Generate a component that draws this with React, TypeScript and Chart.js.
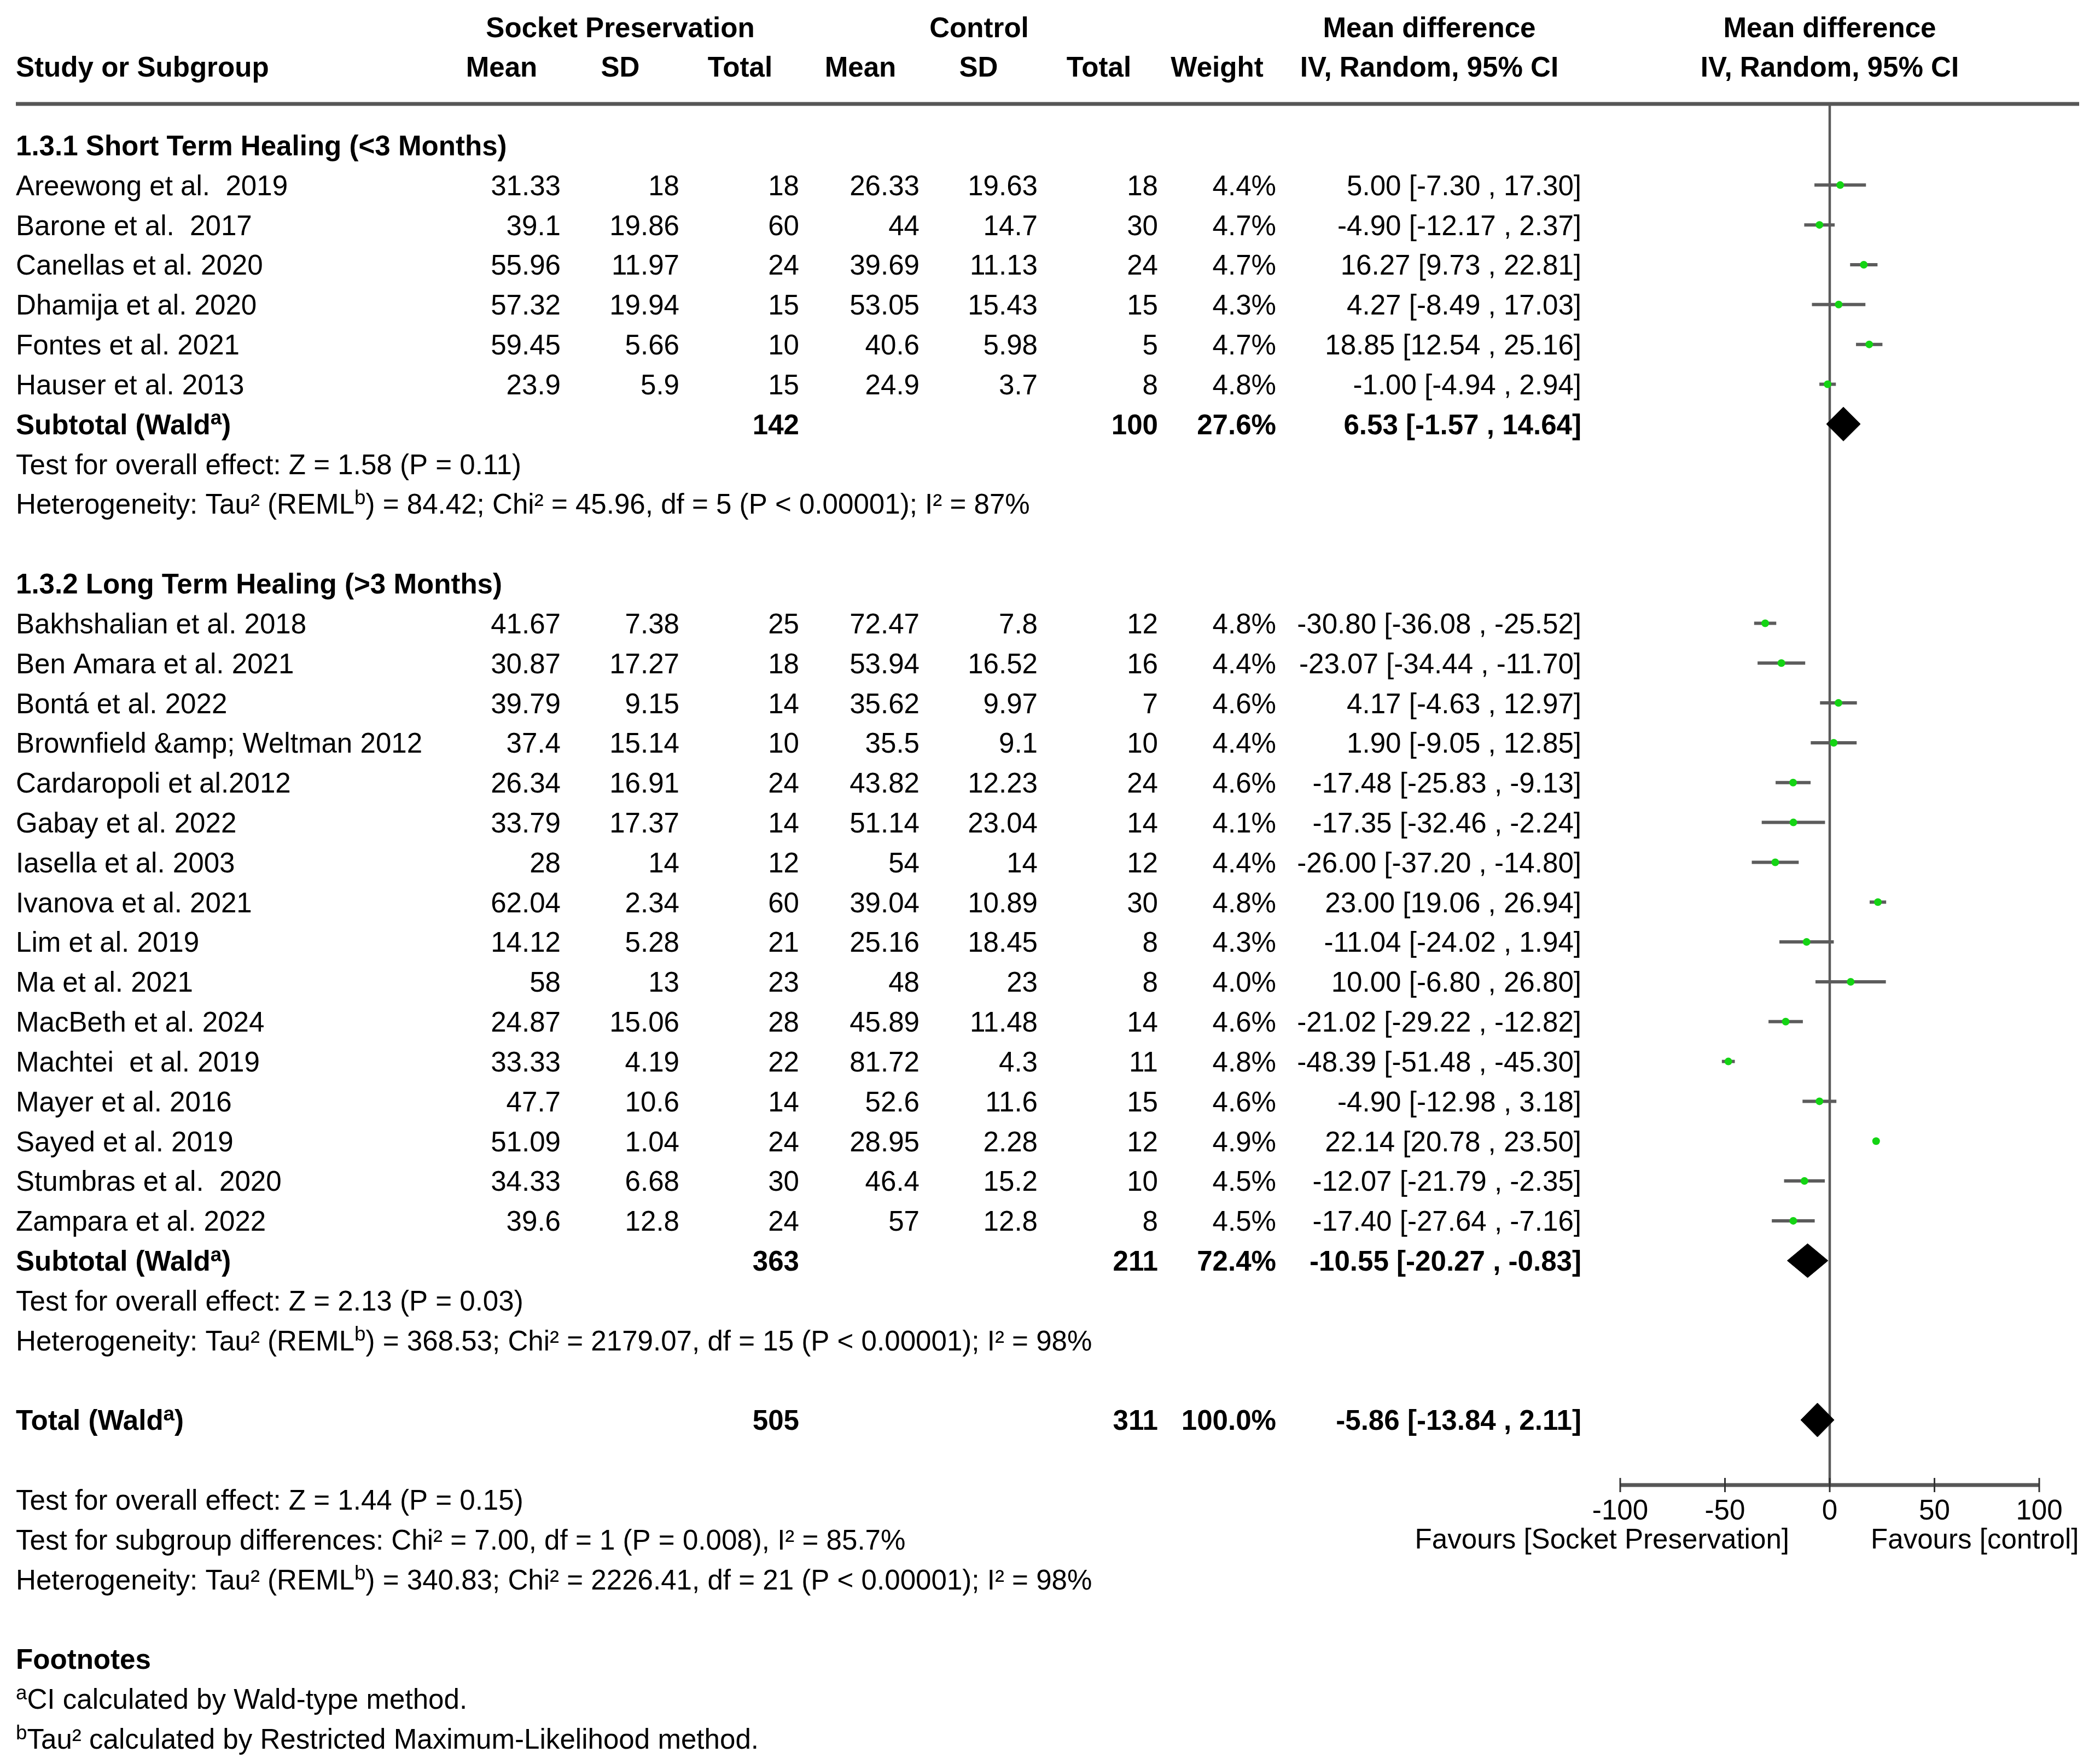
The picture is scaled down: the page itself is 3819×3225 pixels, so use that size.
import React, { useEffect, useRef } from "react";
import { Chart, registerables } from "chart.js";

Chart.register(...registerables);

// ---------------- DATA ----------------
const subgroupNames = [
  "1.3.1 Short Term Healing (<3 Months)",
  "1.3.2 Long Term Healing (>3 Months)",
];
const subgroupSizes = [6, 16];

const studies = [
  "Areewong et al.  2019",
  "Barone et al.  2017",
  "Canellas et al. 2020",
  "Dhamija et al. 2020",
  "Fontes et al. 2021",
  "Hauser et al. 2013",
  "Bakhshalian et al. 2018",
  "Ben Amara et al. 2021",
  "Bontá et al. 2022",
  "Brownfield &amp; Weltman 2012",
  "Cardaropoli et al.2012",
  "Gabay et al. 2022",
  "Iasella et al. 2003",
  "Ivanova et al. 2021",
  "Lim et al. 2019",
  "Ma et al. 2021",
  "MacBeth et al. 2024",
  "Machtei  et al. 2019",
  "Mayer et al. 2016",
  "Sayed et al. 2019",
  "Stumbras et al.  2020",
  "Zampara et al. 2022",
];
const spMean = [31.33, 39.1, 55.96, 57.32, 59.45, 23.9, 41.67, 30.87, 39.79, 37.4, 26.34, 33.79, 28, 62.04, 14.12, 58, 24.87, 33.33, 47.7, 51.09, 34.33, 39.6];
const spSd = [18, 19.86, 11.97, 19.94, 5.66, 5.9, 7.38, 17.27, 9.15, 15.14, 16.91, 17.37, 14, 2.34, 5.28, 13, 15.06, 4.19, 10.6, 1.04, 6.68, 12.8];
const spTotal = [18, 60, 24, 15, 10, 15, 25, 18, 14, 10, 24, 14, 12, 60, 21, 23, 28, 22, 14, 24, 30, 24];
const ctMean = [26.33, 44, 39.69, 53.05, 40.6, 24.9, 72.47, 53.94, 35.62, 35.5, 43.82, 51.14, 54, 39.04, 25.16, 48, 45.89, 81.72, 52.6, 28.95, 46.4, 57];
const ctSd = [19.63, 14.7, 11.13, 15.43, 5.98, 3.7, 7.8, 16.52, 9.97, 9.1, 12.23, 23.04, 14, 10.89, 18.45, 23, 11.48, 4.3, 11.6, 2.28, 15.2, 12.8];
const ctTotal = [18, 30, 24, 15, 5, 8, 12, 16, 7, 10, 24, 14, 12, 30, 8, 8, 14, 11, 15, 12, 10, 8];
const weights = [4.4, 4.7, 4.7, 4.3, 4.7, 4.8, 4.8, 4.4, 4.6, 4.4, 4.6, 4.1, 4.4, 4.8, 4.3, 4.0, 4.6, 4.8, 4.6, 4.9, 4.5, 4.5];
const meanDiff = [5.0, -4.9, 16.27, 4.27, 18.85, -1.0, -30.8, -23.07, 4.17, 1.9, -17.48, -17.35, -26.0, 23.0, -11.04, 10.0, -21.02, -48.39, -4.9, 22.14, -12.07, -17.4];
const ciLow = [-7.3, -12.17, 9.73, -8.49, 12.54, -4.94, -36.08, -34.44, -4.63, -9.05, -25.83, -32.46, -37.2, 19.06, -24.02, -6.8, -29.22, -51.48, -12.98, 20.78, -21.79, -27.64];
const ciHigh = [17.3, 2.37, 22.81, 17.03, 25.16, 2.94, -25.52, -11.7, 12.97, 12.85, -9.13, -2.24, -14.8, 26.94, 1.94, 26.8, -12.82, -45.3, 3.18, 23.5, -2.35, -7.16];

const subSpTotal = [142, 363];
const subCtTotal = [100, 211];
const subWeight = [27.6, 72.4];
const subMd = [6.53, -10.55];
const subLow = [-1.57, -20.27];
const subHigh = [14.64, -0.83];
const subTests = [
  "Test for overall effect: Z = 1.58 (P = 0.11)",
  "Test for overall effect: Z = 2.13 (P = 0.03)",
];
const subHetTail = [
  ") = 84.42; Chi² = 45.96, df = 5 (P < 0.00001); I² = 87%",
  ") = 368.53; Chi² = 2179.07, df = 15 (P < 0.00001); I² = 98%",
];

const totalSp = 505;
const totalCt = 311;
const totalWeight = 100.0;
const totalMd = -5.86;
const totalLow = -13.84;
const totalHigh = 2.11;

const overallTest = "Test for overall effect: Z = 1.44 (P = 0.15)";
const subgroupDiff = "Test for subgroup differences: Chi² = 7.00, df = 1 (P = 0.008), I² = 85.7%";
const overallHetTail = ") = 340.83; Chi² = 2226.41, df = 21 (P < 0.00001); I² = 98%";

const xTicks = [-100, -50, 0, 50, 100];
const favoursLeft = "Favours [Socket Preservation]";
const favoursRight = "Favours [control]";

// ---------------- LAYOUT ----------------
const W = 3819;
const H = 3225;
const TOP_LINE_Y = 190;
const AXIS_Y = 2715;
const ROW0_Y = 265.5;
const ROW_H = 72.83;
const PLOT_LEFT = 2962;
const PLOT_RIGHT = 3728;
const Y_MIN = (TOP_LINE_Y - ROW0_Y) / ROW_H;
const Y_MAX = (AXIS_Y - ROW0_Y) / ROW_H;
const DIAMOND_HALF = 31 / ROW_H;
const FS = 51.1;
const FONT = '"Liberation Sans", Arial, Helvetica, sans-serif';
const LEFT_X = 29;
const COL_RIGHT = [1025, 1242, 1461, 1681, 1897, 2117, 2333];
const CI_RIGHT = 2891;
const CI_HEADER_X = 2613;
const GREEN = "#14d414";
const CI_COLOR = "#5c5c5c";

// row assignment
const groupHeaderRows: number[] = [];
const studyRows: number[] = [];
const subtotalRows: number[] = [];
const testRows: number[] = [];
const hetRows: number[] = [];
let rr = 0;
subgroupSizes.forEach((n) => {
  groupHeaderRows.push(rr++);
  for (let i = 0; i < n; i++) studyRows.push(rr++);
  subtotalRows.push(rr++);
  testRows.push(rr++);
  hetRows.push(rr++);
  rr++;
});
const totalRow = rr++;
rr++;
const overallRows = [rr++, rr++, rr++];
rr++;
const footTitleRow = rr++;
const footRows = [rr++, rr++];

type Seg = { t: string; sup?: boolean };

function setFont(ctx: CanvasRenderingContext2D, bold: boolean, size: number) {
  ctx.font = `${bold ? "bold " : ""}${size}px ${FONT}`;
}

function drawRich(
  ctx: CanvasRenderingContext2D,
  segs: Seg[],
  x: number,
  yc: number,
  align: "left" | "right" | "center",
  bold = false
) {
  const supSize = FS * 0.72;
  let total = 0;
  const ws = segs.map((s) => {
    setFont(ctx, bold, s.sup ? supSize : FS);
    const w = ctx.measureText(s.t).width;
    total += w;
    return w;
  });
  let cx = align === "left" ? x : align === "right" ? x - total : x - total / 2;
  const base = yc + FS * 0.36;
  segs.forEach((s, i) => {
    setFont(ctx, bold, s.sup ? supSize : FS);
    ctx.fillText(s.t, cx, s.sup ? base - FS * 0.34 : base);
    cx += ws[i];
  });
}

const txt = (
  ctx: CanvasRenderingContext2D,
  t: string,
  x: number,
  yc: number,
  align: "left" | "right" | "center",
  bold = false
) => drawRich(ctx, [{ t }], x, yc, align, bold);

const f2 = (v: number) => v.toFixed(2);
const ciText = (m: number, l: number, h: number) => `${f2(m)} [${f2(l)} , ${f2(h)}]`;
const pct = (w: number) => `${w.toFixed(1)}%`;

const tablePlugin = {
  id: "forestTable",
  beforeDraw(chart: any) {
    const ctx = chart.ctx as CanvasRenderingContext2D;
    ctx.save();
    ctx.fillStyle = "#ffffff";
    ctx.fillRect(0, 0, chart.width, chart.height);
    ctx.restore();
  },
  afterDraw(chart: any) {
    const ctx = chart.ctx as CanvasRenderingContext2D;
    const ys = chart.scales.y;
    const xs = chart.scales.x;
    const Y = (r: number) => ys.getPixelForValue(r);
    ctx.save();
    ctx.fillStyle = "#000";
    ctx.textAlign = "left";
    ctx.textBaseline = "alphabetic";

    // headers
    const h1 = Y(-2.97);
    const h2 = Y(-1.97);
    txt(ctx, "Socket Preservation", (COL_RIGHT[0] - 218 + COL_RIGHT[2]) / 2, h1, "center", true);
    txt(ctx, "Control", (COL_RIGHT[3] - 218 + COL_RIGHT[5]) / 2, h1, "center", true);
    txt(ctx, "Mean difference", CI_HEADER_X, h1, "center", true);
    const plotMid = (chart.chartArea.left + chart.chartArea.right) / 2;
    txt(ctx, "Mean difference", plotMid, h1, "center", true);
    txt(ctx, "Study or Subgroup", LEFT_X, h2, "left", true);
    const colHeads = ["Mean", "SD", "Total", "Mean", "SD", "Total", "Weight"];
    colHeads.forEach((h, i) => txt(ctx, h, COL_RIGHT[i] - 108, h2, "center", true));
    txt(ctx, "IV, Random, 95% CI", CI_HEADER_X, h2, "center", true);
    txt(ctx, "IV, Random, 95% CI", plotMid, h2, "center", true);

    // header rule
    ctx.strokeStyle = "#565656";
    ctx.lineWidth = 7;
    ctx.beginPath();
    ctx.moveTo(LEFT_X, chart.chartArea.top);
    ctx.lineTo(3801, chart.chartArea.top);
    ctx.stroke();

    // groups
    let s = 0;
    subgroupNames.forEach((name, g) => {
      txt(ctx, name, LEFT_X, Y(groupHeaderRows[g]), "left", true);
      for (let i = 0; i < subgroupSizes[g]; i++, s++) {
        const y = Y(studyRows[s]);
        txt(ctx, studies[s], LEFT_X, y, "left");
        const vals = [spMean[s], spSd[s], spTotal[s], ctMean[s], ctSd[s], ctTotal[s]].map(String);
        vals.push(pct(weights[s]));
        vals.forEach((v, c) => txt(ctx, v, COL_RIGHT[c], y, "right"));
        txt(ctx, ciText(meanDiff[s], ciLow[s], ciHigh[s]), CI_RIGHT, y, "right");
      }
      const ys2 = Y(subtotalRows[g]);
      drawRich(ctx, [{ t: "Subtotal (Wald" }, { t: "a", sup: true }, { t: ")" }], LEFT_X, ys2, "left", true);
      txt(ctx, String(subSpTotal[g]), COL_RIGHT[2], ys2, "right", true);
      txt(ctx, String(subCtTotal[g]), COL_RIGHT[5], ys2, "right", true);
      txt(ctx, pct(subWeight[g]), COL_RIGHT[6], ys2, "right", true);
      txt(ctx, ciText(subMd[g], subLow[g], subHigh[g]), CI_RIGHT, ys2, "right", true);
      txt(ctx, subTests[g], LEFT_X, Y(testRows[g]), "left");
      drawRich(
        ctx,
        [{ t: "Heterogeneity: Tau² (REML" }, { t: "b", sup: true }, { t: subHetTail[g] }],
        LEFT_X,
        Y(hetRows[g]),
        "left"
      );
    });

    // total
    const yt = Y(totalRow);
    drawRich(ctx, [{ t: "Total (Wald" }, { t: "a", sup: true }, { t: ")" }], LEFT_X, yt, "left", true);
    txt(ctx, String(totalSp), COL_RIGHT[2], yt, "right", true);
    txt(ctx, String(totalCt), COL_RIGHT[5], yt, "right", true);
    txt(ctx, pct(totalWeight), COL_RIGHT[6], yt, "right", true);
    txt(ctx, ciText(totalMd, totalLow, totalHigh), CI_RIGHT, yt, "right", true);

    txt(ctx, overallTest, LEFT_X, Y(overallRows[0]), "left");
    txt(ctx, subgroupDiff, LEFT_X, Y(overallRows[1]), "left");
    drawRich(
      ctx,
      [{ t: "Heterogeneity: Tau² (REML" }, { t: "b", sup: true }, { t: overallHetTail }],
      LEFT_X,
      Y(overallRows[2]),
      "left"
    );

    txt(ctx, "Footnotes", LEFT_X, Y(footTitleRow), "left", true);
    drawRich(ctx, [{ t: "a", sup: true }, { t: "CI calculated by Wald-type method." }], LEFT_X, Y(footRows[0]), "left");
    drawRich(
      ctx,
      [{ t: "b", sup: true }, { t: "Tau² calculated by Restricted Maximum-Likelihood method." }],
      LEFT_X,
      Y(footRows[1]),
      "left"
    );

    // x axis
    const ay = chart.chartArea.bottom;
    ctx.strokeStyle = "#565656";
    ctx.lineWidth = 7;
    ctx.beginPath();
    ctx.moveTo(xs.getPixelForValue(xTicks[0]), ay);
    ctx.lineTo(xs.getPixelForValue(xTicks[xTicks.length - 1]), ay);
    ctx.stroke();
    ctx.strokeStyle = "#333";
    ctx.lineWidth = 3;
    xTicks.forEach((t) => {
      const px = xs.getPixelForValue(t);
      ctx.beginPath();
      ctx.moveTo(px, ay - 13);
      ctx.lineTo(px, ay + 13);
      ctx.stroke();
      txt(ctx, String(t), px, ay + 45, "center");
    });
    const zx = xs.getPixelForValue(0);
    txt(ctx, favoursLeft, zx - 74, ay + 98, "right");
    txt(ctx, favoursRight, zx + 75, ay + 98, "left");
    ctx.restore();
  },
};

export default function App() {
  const ref = useRef<HTMLCanvasElement | null>(null);
  useEffect(() => {
    document.body.style.margin = "0";
    const canvas = ref.current;
    if (!canvas) return;

    const ciSets = studies.map((_, i) => ({
      type: "line" as const,
      data: [
        { x: ciLow[i], y: studyRows[i] },
        { x: ciHigh[i], y: studyRows[i] },
      ],
      borderColor: CI_COLOR,
      borderWidth: 6,
      pointRadius: 0,
      fill: false,
      order: 2,
    }));

    const diamond = (m: number, l: number, h: number, r: number) => ({
      type: "line" as const,
      data: [
        { x: l, y: r },
        { x: m, y: r - DIAMOND_HALF },
        { x: h, y: r },
        { x: m, y: r + DIAMOND_HALF },
        { x: l, y: r },
      ],
      borderColor: "#000",
      backgroundColor: "#000",
      borderWidth: 1,
      pointRadius: 0,
      fill: "shape" as any,
      tension: 0,
      order: 1,
    });

    const chart = new Chart(canvas, {
      type: "line",
      data: {
        datasets: [
          {
            type: "scatter",
            data: meanDiff.map((m, i) => ({ x: m, y: studyRows[i] })),
            backgroundColor: GREEN,
            borderColor: GREEN,
            borderWidth: 0,
            pointStyle: "circle",
            pointRadius: 7,
            order: 0,
          } as any,
          ...ciSets,
          ...subMd.map((m, g) => diamond(m, subLow[g], subHigh[g], subtotalRows[g])),
          diamond(totalMd, totalLow, totalHigh, totalRow),
          {
            type: "line",
            data: [
              { x: 0, y: Y_MIN },
              { x: 0, y: Y_MAX },
            ],
            borderColor: "#5a5a5a",
            borderWidth: 4.5,
            pointRadius: 0,
            fill: false,
            order: 3,
            clip: false,
          } as any,
        ],
      },
      options: {
        responsive: false,
        animation: false,
        devicePixelRatio: 1,
        events: [],
        layout: {
          padding: { left: PLOT_LEFT, right: W - PLOT_RIGHT, top: TOP_LINE_Y, bottom: H - AXIS_Y },
        },
        scales: {
          x: { type: "linear", min: -100, max: 100, display: false },
          y: { type: "linear", min: Y_MIN, max: Y_MAX, reverse: true, display: false },
        },
        plugins: {
          legend: { display: false },
          tooltip: { enabled: false },
        },
      },
      plugins: [tablePlugin],
    });
    return () => chart.destroy();
  }, []);

  return (
    <div style={{ position: "absolute", left: 0, top: 0, width: W, height: H, background: "#fff" }}>
      <canvas ref={ref} width={W} height={H} style={{ display: "block", width: W, height: H }} />
    </div>
  );
}
